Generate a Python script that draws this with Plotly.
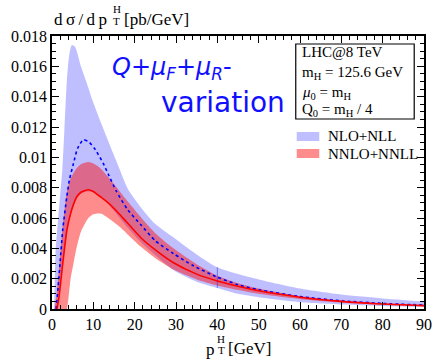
import plotly.graph_objects as go

# Higgs transverse-momentum spectrum, LHC @ 8 TeV (values in 1e-3 pb/GeV)
# NLO+NLL scale-variation band
pt_nlo = [0.5, 0.9, 1.5, 2.0, 2.5, 3.0, 3.6, 4.2, 4.8, 5.5, 6.0, 7.0, 8.4, 10, 12.4,
          15.5, 18.3, 21.5, 25, 30, 35, 40, 45, 50, 60, 70, 80, 90]
nlo_hi = [0, 4.0, 6.0, 7.6, 9.2, 11.8, 15.1, 16.8, 17.4, 17.3, 17.0, 16.0, 14.9, 13.6, 11.9,
          9.8, 7.95, 6.7, 5.6, 4.6, 3.6, 2.75, 2.3, 1.95, 1.35, 0.95, 0.7, 0.5]
nlo_lo = [0, 0.0, 0.3, 1.5, 2.8, 3.9, 5.0, 5.9, 6.5, 7.0, 7.3, 7.6, 7.75, 7.7, 7.3,
          6.3, 5.35, 4.4, 3.55, 2.45, 1.8, 1.39, 1.0, 0.78, 0.45, 0.3, 0.2, 0.15]

# NLO+NLL central curve
pt_nlo_c = [1.0, 1.5, 2.0, 2.6, 3.6, 4.2, 5.2, 6.2, 7.6, 9.0, 10.5, 12.4, 13.6, 15.5, 18.3,
            21.5, 25, 29.4, 34.2, 40, 45, 50, 60, 70, 80, 90]
nlo_c = [0, 1.5, 3.2, 5.23, 7.42, 8.5, 9.6, 10.6, 11.16, 11.0, 10.5, 9.6, 8.9, 7.8, 6.55,
         5.55, 4.5, 3.65, 2.85, 2.1, 1.6, 1.27, 0.82, 0.54, 0.37, 0.26]

# NNLO+NNLL scale-variation band
pt_nnlo = [0.6, 1.2, 1.8, 2.5, 3.4, 3.6, 4.5, 5.2, 6.0, 7.0, 8.8, 10, 11.2, 12, 13.6,
           16, 18, 21.5, 25, 29.4, 35, 40, 45, 50, 60, 70, 80, 90]
nnlo_hi = [0, 1.2, 3.0, 5.2, 7.4, 7.7, 8.6, 8.97, 9.3, 9.55, 9.69, 9.6, 9.4, 9.2, 8.7,
           7.9, 7.2, 6.05, 5.0, 4.0, 2.95, 2.2, 1.7, 1.35, 0.85, 0.55, 0.37, 0.26]
nnlo_lo = [0, 0, 0, 0, 0, 0, 2.0, 3.0, 4.1, 5.1, 6.0, 6.25, 6.3, 6.28, 6.0,
           5.5, 5.0, 4.1, 3.35, 2.6, 1.95, 1.55, 1.25, 1.0, 0.65, 0.42, 0.28, 0.18]

# NNLO+NNLL central curve
pt_nnlo_c = [1.2, 1.7, 2.6, 3.6, 4.5, 5.2, 6.0, 7.0, 8.8, 10, 11.2, 12, 13.6, 16, 18,
             21.5, 25, 29.4, 35, 40, 45, 50, 60, 70, 80, 90]
nnlo_c = [0, 0.8, 3.0, 5.2, 6.3, 6.9, 7.4, 7.7, 7.86, 7.75, 7.5, 7.35, 7.0, 6.35, 5.75,
          4.7, 3.9, 3.05, 2.3, 1.85, 1.5, 1.2, 0.78, 0.5, 0.33, 0.22]

y_ticks = [0, 0.002, 0.004, 0.006, 0.008, 0.01, 0.012, 0.014, 0.016, 0.018]
y_tick_text = ["0", "0.002", "0.004", "0.006", "0.008", "0.01", "0.012", "0.014", "0.016", "0.018"]
x_ticks = [0, 10, 20, 30, 40, 50, 60, 70, 80, 90]

scale = 1e-3
def sc(v):
    return [a * scale for a in v]

BLUE_FILL = "rgba(0,0,255,0.25)"
RED_FILL = "rgba(255,0,0,0.45)"
SERIF = "Liberation Serif"
SMOOTH = dict(shape="spline", smoothing=0.6)

fig = go.Figure()

# bands
fig.add_trace(go.Scatter(x=pt_nlo, y=sc(nlo_lo), mode="lines", line=dict(width=0, **SMOOTH),
                         hoverinfo="skip", showlegend=False))
fig.add_trace(go.Scatter(x=pt_nlo, y=sc(nlo_hi), mode="lines", line=dict(width=0, **SMOOTH),
                         fill="tonexty", fillcolor=BLUE_FILL, name="NLO+NLL", showlegend=False))
fig.add_trace(go.Scatter(x=pt_nnlo, y=sc(nnlo_lo), mode="lines", line=dict(width=0, **SMOOTH),
                         hoverinfo="skip", showlegend=False))
fig.add_trace(go.Scatter(x=pt_nnlo, y=sc(nnlo_hi), mode="lines", line=dict(width=0, **SMOOTH),
                         fill="tonexty", fillcolor=RED_FILL, name="NNLO+NNLL", showlegend=False))

# thin marker across the NLO band at pT = 40 GeV
i40 = pt_nlo.index(40)
fig.add_trace(go.Scatter(x=[40, 40], y=sc([nlo_lo[i40], nlo_hi[i40]]), mode="lines",
                         line=dict(color="rgba(60,60,230,0.6)", width=1), showlegend=False))

# central curves
fig.add_trace(go.Scatter(x=pt_nlo_c, y=sc(nlo_c), mode="lines",
                         line=dict(color="#0000ff", width=1.6, dash="dot", **SMOOTH),
                         showlegend=False))
fig.add_trace(go.Scatter(x=pt_nnlo_c, y=sc(nnlo_c), mode="lines",
                         line=dict(color="#ff0000", width=1.6, **SMOOTH),
                         showlegend=False))

# plot-area pixel helpers (plot area spans x 52..432, y 36..309)
L, R, T, B = 52, 432, 36, 309
def px(xp):
    return (xp - L) / (R - L)
def py(yp):
    return (B - yp) / (B - T)

ann = []
def text(x, y, s, size, xanchor="left", color="black", family=SERIF):
    ann.append(dict(x=px(x), y=py(y), xref="paper", yref="paper", text=s, showarrow=False,
                    xanchor=xanchor, yanchor="middle", font=dict(family=family, size=size, color=color)))

TS = "\u2009"
# axis titles
text(52, 20, TS.join("dσ/dp"), 17)
text(118, 9, "H", 11, xanchor="center")
text(118, 21, "T", 11, xanchor="center")
text(123, 20, "[pb/GeV]", 17)
text(213.5, 349, "p", 17, xanchor="center")
text(225, 339, "H", 11, xanchor="center")
text(225, 350, "T", 11, xanchor="center")
text(230, 348, "[GeV]", 17)

# variation label
text(111, 68, "<i>Q</i>+<i>μ</i><sub><i>F</i></sub>+<i>μ</i><sub><i>R</i></sub>-", 24,
     color="#1010ff", family="DejaVu Sans")
text(161, 102, "variation", 28, color="#1010ff", family="DejaVu Sans")

# info box
text(305, 52, "LHC@8 TeV", 15)
text(305, 73, "m<sub>H</sub> = 125.6 GeV", 15)
text(305, 93, "<i>μ</i><sub>0</sub> = m<sub>H</sub>", 15)
text(305, 110, "Q<sub>0</sub> = m<sub>H</sub> / 4", 15)

# legend
text(332, 136, "NLO+NLL", 15)
text(332, 154, "NNLO+NNLL", 15)

shapes = [
    dict(type="rect", xref="paper", yref="paper", x0=px(301), x1=px(422), y0=py(44), y1=py(119),
         line=dict(color="black", width=1.2), fillcolor="rgba(0,0,0,0)"),
    dict(type="rect", xref="paper", yref="paper", x0=px(302), x1=px(325), y0=py(132), y1=py(141),
         line=dict(width=0), fillcolor=BLUE_FILL),
    dict(type="rect", xref="paper", yref="paper", x0=px(302), x1=px(325), y0=py(149), y1=py(158),
         line=dict(width=0), fillcolor=RED_FILL),
]

axis_common = dict(showgrid=False, zeroline=False, showline=True, linecolor="black", linewidth=1.5,
                   mirror="allticks", ticks="inside", ticklen=7, tickwidth=1, tickcolor="black",
                   tickfont=dict(family=SERIF, size=16, color="black"))

fig.update_layout(
    width=441, height=359,
    margin=dict(l=L, r=441 - R, t=T, b=359 - B),
    paper_bgcolor="white", plot_bgcolor="white",
    xaxis=dict(range=[0, 90], tickvals=x_ticks,
               minor=dict(dtick=2, ticks="inside", ticklen=4, tickcolor="black", showgrid=False),
               **axis_common),
    yaxis=dict(range=[0, 0.018], tickvals=y_ticks, ticktext=y_tick_text,
               minor=dict(dtick=0.0005, ticks="inside", ticklen=4, tickcolor="black", showgrid=False),
               **axis_common),
    annotations=ann, shapes=shapes, showlegend=False,
)

fig.write_html("out.html")
